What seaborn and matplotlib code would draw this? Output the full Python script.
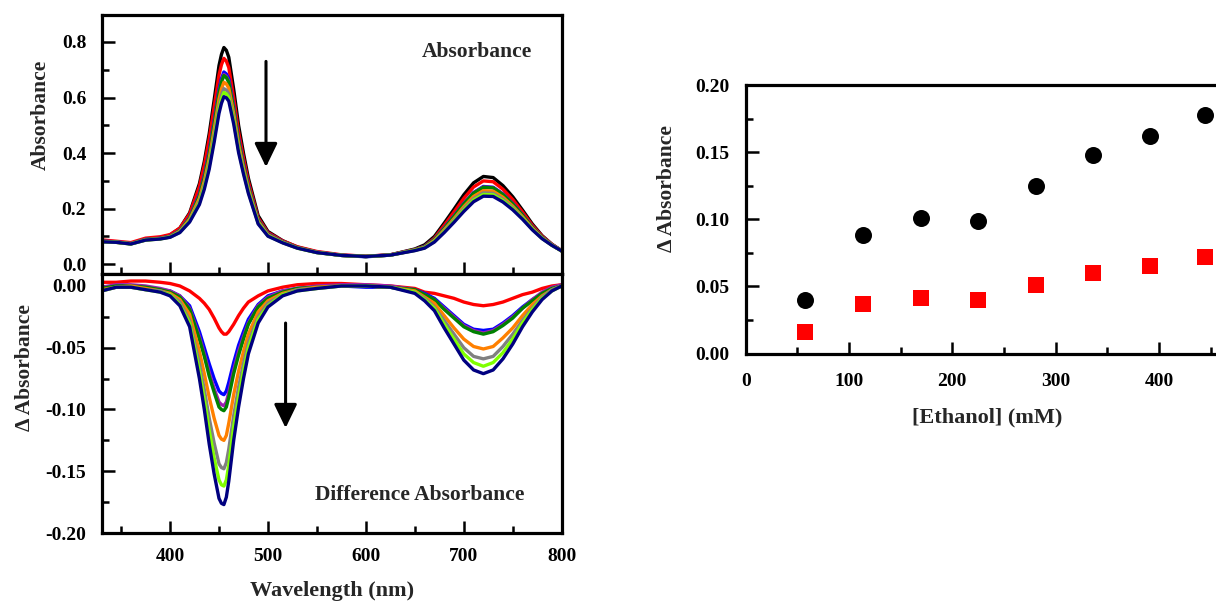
import numpy as np
import matplotlib
matplotlib.use("Agg")
import matplotlib.pyplot as plt
import matplotlib.ticker as ticker
import seaborn as sns

# =========================================================================
# DATA
# =========================================================================
wavelength = [330, 345, 360, 375, 390, 400, 410, 420, 430, 435, 440, 445, 450, 452.5, 455,
              457.5, 460, 465, 470, 475, 480, 490, 500, 515, 530, 550, 575, 600, 625, 650,
              660, 670, 680, 690, 700, 710, 720, 730, 740, 750, 760, 770, 780, 790, 800]

# starting spectrum (black)
abs_start = [0.085, 0.080, 0.074, 0.090, 0.096, 0.105, 0.130, 0.185, 0.290, 0.370, 0.470,
             0.590, 0.715, 0.755, 0.780, 0.770, 0.745, 0.630, 0.500, 0.400, 0.310, 0.175,
             0.118, 0.085, 0.062, 0.044, 0.032, 0.028, 0.034, 0.055, 0.070, 0.100, 0.148,
             0.198, 0.250, 0.293, 0.316, 0.312, 0.283, 0.243, 0.195, 0.145, 0.103, 0.072, 0.048]

# difference spectra (each addition minus start)
diff_red = [0.003, 0.003, 0.004, 0.004, 0.003, 0.002, 0.000, -0.004, -0.010, -0.014, -0.019,
            -0.026, -0.034, -0.037, -0.039, -0.039, -0.037, -0.031, -0.024, -0.018, -0.013,
            -0.008, -0.004, -0.001, 0.001, 0.002, 0.002, 0.001, 0.000, -0.002, -0.005, -0.006,
            -0.008, -0.010, -0.013, -0.015, -0.016, -0.015, -0.013, -0.010, -0.007, -0.005,
            -0.002, 0.000, 0.001]
diff_blue = [-0.002, 0.000, 0.000, -0.001, -0.003, -0.004, -0.008, -0.016, -0.037, -0.050,
             -0.063, -0.075, -0.085, -0.087, -0.088, -0.085, -0.078, -0.062, -0.048, -0.037,
             -0.027, -0.015, -0.008, -0.004, -0.002, -0.001, 0.000, -0.001, -0.001, -0.003,
             -0.006, -0.010, -0.017, -0.024, -0.031, -0.035, -0.036, -0.035, -0.030, -0.024,
             -0.017, -0.011, -0.006, -0.002, 0.000]
diff_purple = [-0.001, 0.001, 0.001, 0.000, -0.002, -0.004, -0.008, -0.018, -0.041, -0.055,
               -0.070, -0.083, -0.094, -0.096, -0.097, -0.094, -0.086, -0.068, -0.053, -0.041,
               -0.030, -0.016, -0.009, -0.004, -0.002, 0.000, 0.001, 0.001, 0.000, -0.003,
               -0.007, -0.011, -0.018, -0.025, -0.032, -0.036, -0.038, -0.036, -0.031, -0.025,
               -0.018, -0.011, -0.005, -0.001, 0.001]
diff_green = [-0.002, 0.000, 0.000, -0.001, -0.003, -0.005, -0.009, -0.019, -0.043, -0.057,
              -0.073, -0.086, -0.098, -0.100, -0.101, -0.098, -0.090, -0.071, -0.056, -0.043,
              -0.031, -0.017, -0.010, -0.005, -0.002, -0.001, 0.000, 0.000, -0.001, -0.003,
              -0.007, -0.011, -0.019, -0.026, -0.033, -0.037, -0.039, -0.037, -0.032, -0.026,
              -0.018, -0.012, -0.006, -0.002, 0.000]
diff_orange = [-0.003, -0.001, 0.000, -0.002, -0.004, -0.006, -0.011, -0.023, -0.053, -0.071,
               -0.090, -0.107, -0.121, -0.124, -0.125, -0.121, -0.111, -0.088, -0.069, -0.053,
               -0.039, -0.021, -0.012, -0.006, -0.003, -0.001, 0.000, 0.000, -0.001, -0.004,
               -0.009, -0.014, -0.024, -0.034, -0.043, -0.049, -0.051, -0.049, -0.042, -0.034,
               -0.024, -0.015, -0.008, -0.003, 0.000]
diff_gray = [-0.004, -0.001, -0.001, -0.003, -0.004, -0.007, -0.013, -0.028, -0.063, -0.084,
             -0.107, -0.127, -0.144, -0.147, -0.148, -0.143, -0.132, -0.105, -0.082, -0.063,
             -0.046, -0.025, -0.014, -0.007, -0.003, -0.002, 0.000, 0.000, -0.001, -0.005,
             -0.010, -0.017, -0.028, -0.039, -0.050, -0.057, -0.059, -0.057, -0.049, -0.039,
             -0.028, -0.018, -0.009, -0.003, 0.000]
diff_lime = [-0.004, -0.001, -0.001, -0.003, -0.005, -0.007, -0.015, -0.030, -0.069, -0.092,
             -0.117, -0.139, -0.157, -0.161, -0.162, -0.157, -0.145, -0.114, -0.090, -0.069,
             -0.050, -0.027, -0.016, -0.007, -0.004, -0.002, 0.000, 0.000, -0.001, -0.005,
             -0.011, -0.018, -0.031, -0.043, -0.055, -0.062, -0.065, -0.062, -0.054, -0.043,
             -0.030, -0.019, -0.010, -0.004, 0.000]
diff_navy = [-0.004, -0.001, -0.001, -0.003, -0.005, -0.008, -0.016, -0.033, -0.075, -0.100,
             -0.128, -0.152, -0.172, -0.176, -0.177, -0.171, -0.158, -0.125, -0.098, -0.075,
             -0.055, -0.030, -0.017, -0.008, -0.004, -0.002, 0.000, 0.000, -0.001, -0.006,
             -0.012, -0.020, -0.034, -0.047, -0.060, -0.068, -0.071, -0.068, -0.059, -0.047,
             -0.033, -0.021, -0.011, -0.004, 0.000]

titration_diffs = [diff_red, diff_blue, diff_purple, diff_green,
                   diff_orange, diff_gray, diff_lime, diff_navy]
titration_colors = ["#ff0000", "#0000ff", "#9c1fb0", "#008000",
                    "#ff8000", "#808080", "#80ff00", "#000080"]

# ethanol titration summary
ethanol_mM = [57, 114, 170, 225, 281, 336, 391, 445]
delta_soret = [0.040, 0.088, 0.101, 0.099, 0.125, 0.148, 0.162, 0.178]
delta_q = [0.016, 0.037, 0.041, 0.040, 0.051, 0.060, 0.065, 0.072]

# =========================================================================
# STYLE
# =========================================================================
sns.set_style("ticks")
plt.rcParams["font.family"] = ["Liberation Serif", "DejaVu Serif"]
plt.rcParams["font.weight"] = "bold"
plt.rcParams["axes.labelweight"] = "bold"
plt.rcParams["axes.unicode_minus"] = False


def style_axes(ax, labelsize=14, pad_x=11, pad_y=11):
    for sp in ax.spines.values():
        sp.set_linewidth(2.3)
        sp.set_color("black")
    ax.tick_params(which="both", direction="in", width=1.8, colors="black",
                   top=False, right=False, labelsize=labelsize)
    ax.tick_params(which="major", length=9)
    ax.tick_params(which="minor", length=5)
    ax.tick_params(axis="x", which="both", pad=pad_x)
    ax.tick_params(axis="y", which="both", pad=pad_y)


W, H = 1216, 601
fig = plt.figure(figsize=(W / 100, H / 100), dpi=100)
ax_abs = fig.add_axes([101.5 / W, 1 - 274 / H, 460.2 / W, 259 / H])
ax_diff = fig.add_axes([101.5 / W, 1 - 533 / H, 460.2 / W, 259 / H])
ax_eth = fig.add_axes([745.7 / W, 1 - 353.5 / H, 516.5 / W, 268.5 / H])

wl = np.array(wavelength)
a0 = np.array(abs_start)

# --- top: absorbance spectra ---
sns.lineplot(x=wl, y=a0, color="black", lw=2.4, ax=ax_abs)
for d, c in zip(titration_diffs, titration_colors):
    sns.lineplot(x=wl, y=a0 + np.array(d), color=c, lw=2.4, ax=ax_abs)

ax_abs.set_xlim(330, 800)
ax_abs.set_ylim(-0.035, 0.897)
ax_abs.set_yticks([0.0, 0.2, 0.4, 0.6, 0.8])
ax_abs.yaxis.set_minor_locator(ticker.MultipleLocator(0.1))
ax_abs.xaxis.set_major_locator(ticker.MultipleLocator(100))
ax_abs.xaxis.set_minor_locator(ticker.MultipleLocator(50))
style_axes(ax_abs)
ax_abs.tick_params(axis="x", labelbottom=False)
ax_abs.set_xlabel("")
ax_abs.set_ylabel("Absorbance", fontsize=15.5)
ax_abs.yaxis.set_label_coords(-0.11, 0.614)
ax_abs.text(713, 0.765, "Absorbance", fontsize=15.5, fontweight="bold",
            ha="center", va="center")
ax_abs.annotate("", xy=(498, 0.35), xytext=(498, 0.73),
                arrowprops=dict(arrowstyle="-|>,head_width=0.7,head_length=1.45",
                                lw=2.2, color="black", shrinkA=0, shrinkB=0))

# --- bottom: difference spectra ---
for d, c in zip(titration_diffs, titration_colors):
    sns.lineplot(x=wl, y=d, color=c, lw=2.4, ax=ax_diff)

ax_diff.set_xlim(330, 800)
ax_diff.set_ylim(-0.20, 0.0097)
ax_diff.set_yticks([-0.20, -0.15, -0.10, -0.05, 0.00])
ax_diff.yaxis.set_minor_locator(ticker.MultipleLocator(0.025))
ax_diff.xaxis.set_major_locator(ticker.MultipleLocator(100))
ax_diff.xaxis.set_minor_locator(ticker.MultipleLocator(50))
ax_diff.xaxis.set_major_formatter(ticker.FormatStrFormatter("%d"))
style_axes(ax_diff)
ax_diff.set_ylabel("\u0394 Absorbance", fontsize=15.5)
ax_diff.yaxis.set_label_coords(-0.145, 0.637)
ax_diff.set_xlabel("Wavelength (nm)", fontsize=16)
ax_diff.xaxis.set_label_coords(0.5, -0.185)
ax_diff.text(655, -0.169, "Difference Absorbance", fontsize=15.5, fontweight="bold",
             ha="center", va="center")
ax_diff.annotate("", xy=(518, -0.115), xytext=(518, -0.030),
                 arrowprops=dict(arrowstyle="-|>,head_width=0.7,head_length=1.45",
                                 lw=2.2, color="black", shrinkA=0, shrinkB=0))

# --- right: delta absorbance vs ethanol ---
sns.scatterplot(x=ethanol_mM, y=delta_soret, color="black", marker="o", s=150,
                edgecolor="black", linewidth=0, ax=ax_eth)
sns.scatterplot(x=ethanol_mM, y=delta_q, color="#ff0000", marker="s", s=140,
                edgecolor="#ff0000", linewidth=0, ax=ax_eth)
ax_eth.set_xlim(0, 500)
ax_eth.set_ylim(0, 0.20)
ax_eth.set_xticks([0, 100, 200, 300, 400])
ax_eth.set_xticks([50, 150, 250, 350, 450], minor=True)
ax_eth.set_yticks([0.00, 0.05, 0.10, 0.15, 0.20])
ax_eth.yaxis.set_minor_locator(ticker.MultipleLocator(0.025))
ax_eth.yaxis.set_major_formatter(ticker.FormatStrFormatter("%.2f"))
style_axes(ax_eth, labelsize=14, pad_x=14, pad_y=12)
ax_eth.set_ylabel("\u0394 Absorbance", fontsize=15.5)
ax_eth.yaxis.set_label_coords(-0.133, 0.613)
ax_eth.set_xlabel("[Ethanol] (mM)", fontsize=16)
ax_eth.xaxis.set_label_coords(0.468, -0.2)

fig.savefig("out.png", dpi=100)
